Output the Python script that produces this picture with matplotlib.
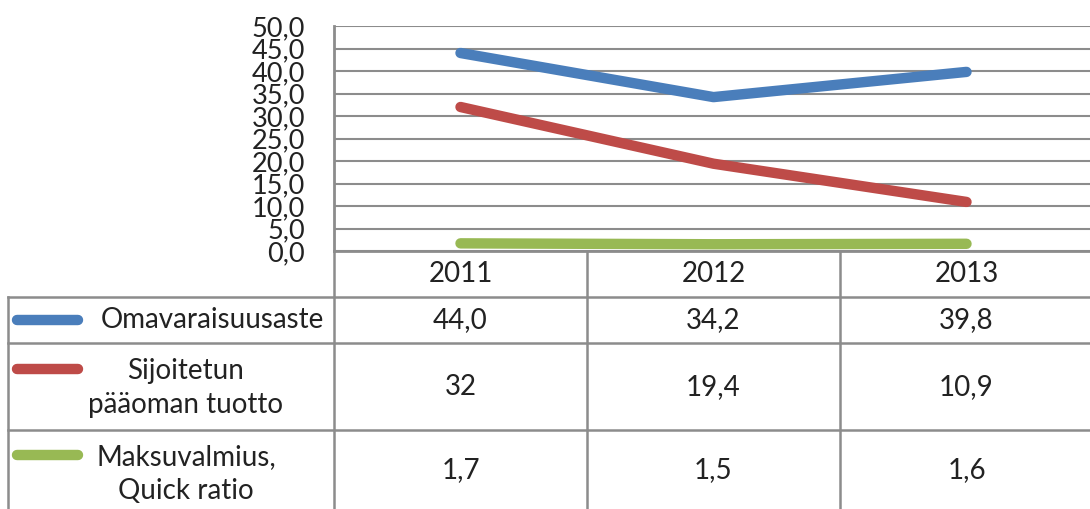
import matplotlib.pyplot as plt
import matplotlib.transforms as mtransforms
import numpy as np

years = ["2011", "2012", "2013"]
omavaraisuus = [44.0, 34.2, 39.8]
sijoitetun = [32.0, 19.4, 10.9]
maksuvalmius = [1.7, 1.5, 1.6]
series_names = ["Omavaraisuusaste", "Sijoitetun\npääoman tuotto", "Maksuvalmius,\nQuick ratio"]
table_text = [["44,0", "34,2", "39,8"],
              ["32", "19,4", "10,9"],
              ["1,7", "1,5", "1,6"]]
colors = ["#4a7ebb", "#be4b48", "#98b954"]
yticks = np.arange(0, 51, 5)

plt.rcParams['font.family'] = ['Lato', 'DejaVu Sans']
W, H = 1090, 509
fig = plt.figure(figsize=(W / 100, H / 100), dpi=100)

# pixel helper axes for the data table
tab = fig.add_axes([0, 0, 1, 1])
tab.set_xlim(0, W)
tab.set_ylim(H, 0)
tab.axis("off")

x0, x1, ytop, ybot = 334, 1093, 26, 251
ax = fig.add_axes([x0 / W, 1 - ybot / H, (x1 - x0) / W, (ybot - ytop) / H])
x = np.arange(len(years))
for vals, c in zip([omavaraisuus, sijoitetun, maksuvalmius], colors):
    ax.plot(x, vals, color=c, lw=7.5, solid_capstyle="round", zorder=3)
ax.set_xlim(-0.5, len(years) - 0.5)
ax.set_ylim(0, 50)
ax.set_yticks(yticks)
ax.set_yticklabels([f"{v:.1f}".replace(".", ",") for v in yticks], fontsize=19.5)
ax.tick_params(axis="y", length=0, pad=21, labelcolor="#222222")
ax.set_xticks([])
ax.grid(axis="y", color="#8c8c8c", lw=1.5)
ax.set_axisbelow(True)
for s in ["top", "right"]:
    ax.spines[s].set_visible(False)
for s in ["left", "bottom"]:
    ax.spines[s].set_color("#8c8c8c")
    ax.spines[s].set_linewidth(2)
ax.patch.set_alpha(0)

# table
lc, lw = "#8c8c8c", 1.8
for yy in [297, 343, 430]:
    tab.plot([8, W], [yy, yy], color=lc, lw=lw)
tab.plot([8, 8], [297, H], color=lc, lw=lw)
for xx in [334, 587, 840]:
    tab.plot([xx, xx], [251, H], color=lc, lw=lw)

bt = mtransforms.blended_transform_factory(ax.transData, tab.transData)
fs = 20
for i, yr in enumerate(years):
    tab.text(i, 274, yr, transform=bt, ha="center", va="center", fontsize=fs, color="#222222")

row_y = [320, 387, 470]
name_y = [320, 388, 474]
name_x = [212, 186, 186]
key_y = [320, 369, 455]
for r, (name, c) in enumerate(zip(series_names, colors)):
    tab.plot([17, 78], [key_y[r], key_y[r]], color=c, lw=7.5, solid_capstyle="round")
    tab.text(name_x[r], name_y[r], name, ha="center", va="center", fontsize=fs,
             color="#222222", linespacing=1.4)
    for i, t in enumerate(table_text[r]):
        tab.text(i, row_y[r], t, transform=bt, ha="center", va="center", fontsize=fs,
                 color="#222222")

fig.savefig("out.png", dpi=100)
